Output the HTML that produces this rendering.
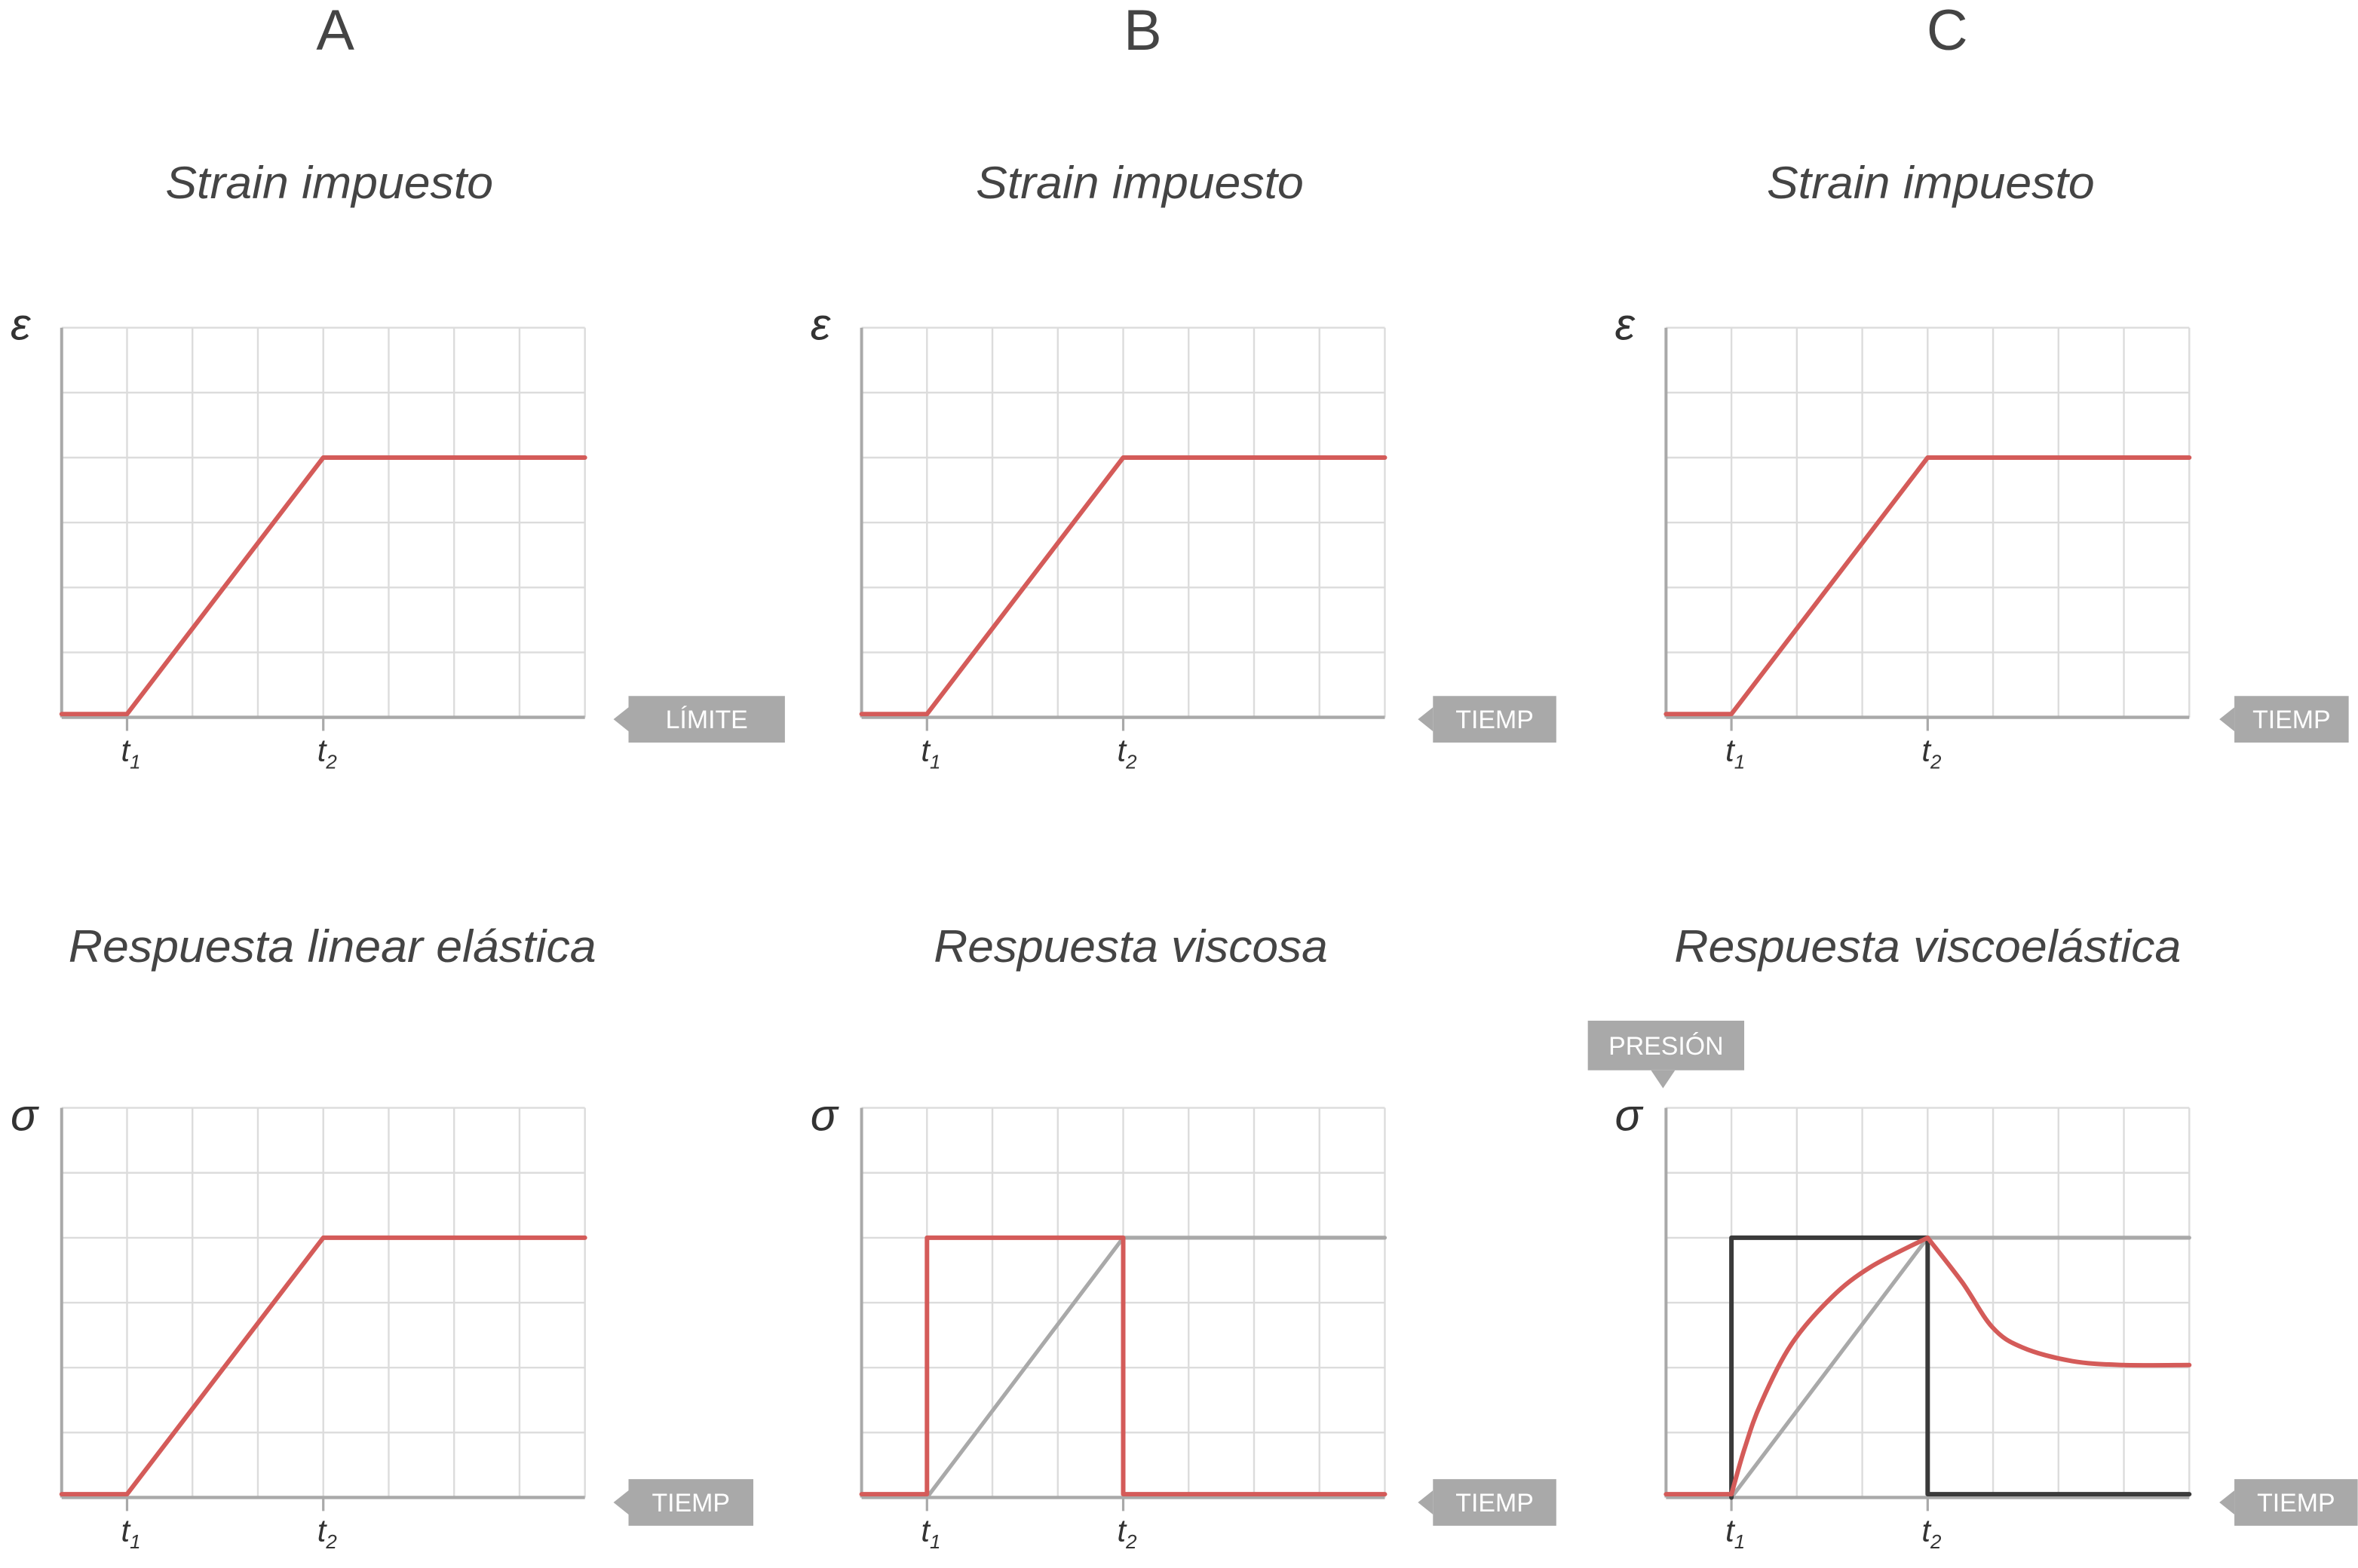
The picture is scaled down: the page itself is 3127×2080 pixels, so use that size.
<!DOCTYPE html>
<html><head><meta charset="utf-8">
<style>
html,body{margin:0;padding:0;background:#fff;}
svg{display:block;}
text{font-family:"Liberation Sans",sans-serif;}
</style></head>
<body>
<svg id="fig" xmlns="http://www.w3.org/2000/svg" width="3127" height="2080" viewBox="0 0 1568.2 1043.1"></svg>
<script>
// ---- data (grid units: x in columns 0..8, y in rows 0..6) ----
const columnLetters = ["A", "B", "C"];
const topTitles = ["Strain impuesto", "Strain impuesto", "Strain impuesto"];
const bottomTitles = ["Respuesta linear elástica", "Respuesta viscosa", "Respuesta viscoelástica"];
const topAxisTags = ["LÍMITE", "TIEMP", "TIEMP"];
const bottomAxisTags = ["TIEMP", "TIEMP", "TIEMP"];
const tickTimes = [1, 4];
const strainX = [0, 1, 4, 8];
const strainY = [0.05, 0.05, 4, 4];
const elasticX = [0, 1, 4, 8];
const elasticY = [0.05, 0.05, 4, 4];
const viscousX = [0, 1, 1, 4, 4, 8];
const viscousY = [0.05, 0.05, 4, 4, 0.05, 0.05];
const refX = [1, 4, 8];
const refY = [0, 4, 4];
const darkX = [1, 1, 4, 4, 8];
const darkY = [0, 4, 4, 0.05, 0.05];
const veBaseX = [0, 1];
const veBaseY = [0.05, 0.05];
const veRiseX = [1, 1.2, 1.45, 1.91, 2.53, 3.13, 4.0];
const veRiseY = [0.05, 0.75, 1.45, 2.35, 3.08, 3.55, 4.0];
const veDecayX = [4.0, 4.53, 4.99, 5.45, 6.21, 6.99, 8];
const veDecayY = [4.0, 3.31, 2.62, 2.31, 2.1, 2.04, 2.04];

const NS = "http://www.w3.org/2000/svg";
const svg = document.getElementById("fig");
const panelLeft = [41, 573, 1108];
const rowTop = [218, 737];
const CW = 43.5, RH = 43.2;
const RED = "#d45b59", GRAY = "#a9a9a9", DARK = "#3a3a3a", GRID = "#dcdcdc";

function el(tag, attrs, parent) {
  const e = document.createElementNS(NS, tag);
  for (const k in attrs) e.setAttribute(k, attrs[k]);
  (parent || svg).appendChild(e);
  return e;
}
function sx(p, v) { return panelLeft[p] + v * CW; }
function sy(r, v) { return rowTop[r] + 6 * RH - v * RH; }
function series(p, r, xs, ys, color, w, name) {
  let d = "";
  for (let i = 0; i < xs.length; i++) d += (i ? "L" : "M") + sx(p, xs[i]).toFixed(1) + " " + sy(r, ys[i]).toFixed(1);
  const e = el("path", {d: d, fill: "none", stroke: color, "stroke-width": w, "stroke-linejoin": "round", "stroke-linecap": "round"});
  
  
  return e;
}
function smoothD(p, r, xs, ys) {
  const P = xs.map((x, i) => [sx(p, x), sy(r, ys[i])]);
  let d = "M" + P[0][0].toFixed(1) + " " + P[0][1].toFixed(1);
  for (let i = 0; i < P.length - 1; i++) {
    const p0 = P[Math.max(0, i - 1)], p1 = P[i], p2 = P[i + 1], p3 = P[Math.min(P.length - 1, i + 2)];
    const c1 = [p1[0] + (p2[0] - p0[0]) / 6, p1[1] + (p2[1] - p0[1]) / 6];
    const c2 = [p2[0] - (p3[0] - p1[0]) / 6, p2[1] - (p3[1] - p1[1]) / 6];
    d += `C${c1[0].toFixed(1)} ${c1[1].toFixed(1)} ${c2[0].toFixed(1)} ${c2[1].toFixed(1)} ${p2[0].toFixed(1)} ${p2[1].toFixed(1)}`;
  }
  return d;
}
function tag(x, y, w, h, label, dir, name) {
  const g = el("g", {});
  
  
  el("rect", {x: x, y: y, width: w, height: h, fill: GRAY}, g);
  if (dir === "left") el("polygon", {points: `${x},${y + h / 2 - 8} ${x - 10},${y + h / 2} ${x},${y + h / 2 + 8}`, fill: GRAY}, g);
  else el("polygon", {points: `${x + 42},${y + h} ${x + 50},${y + h + 12} ${x + 58},${y + h}`, fill: GRAY}, g);
  const t = el("text", {x: x + w / 2, y: y + h / 2 + 6, "text-anchor": "middle", "font-size": 17, fill: "#fff"}, g);
  t.textContent = label;
}
function panel(p, r, symbol) {
  const g = el("g", {});
  
  
  for (let i = 1; i <= 8; i++) el("line", {x1: sx(p, i), x2: sx(p, i), y1: sy(r, 6), y2: sy(r, 0), stroke: GRID, "stroke-width": 1.2}, g);
  for (let j = 1; j <= 6; j++) el("line", {x1: sx(p, 0), x2: sx(p, 8), y1: sy(r, j), y2: sy(r, j), stroke: GRID, "stroke-width": 1.2}, g);
  const ya = el("line", {x1: sx(p, 0), x2: sx(p, 0), y1: sy(r, 6), y2: sy(r, 0), stroke: GRAY, "stroke-width": 2}, g);
  
  
  const xa = el("line", {x1: sx(p, 0), x2: sx(p, 8), y1: sy(r, 0), y2: sy(r, 0), stroke: GRAY, "stroke-width": 2.2}, g);
  
  
  tickTimes.forEach((t, k) => {
    el("line", {x1: sx(p, t), x2: sx(p, t), y1: sy(r, 0), y2: sy(r, 0) + 9, stroke: GRAY, "stroke-width": 1.6}, g);
    const lbl = el("text", {x: sx(p, t) - 4, y: sy(r, 0) + 29, "font-size": 21, "font-style": "italic", fill: "#333"}, g);
    
    
    lbl.textContent = "t";
    const sub = el("tspan", {"font-size": 13, dy: 5}, lbl);
    sub.textContent = String(k + 1);
  });
  const s = el("text", {x: sx(p, 0) - 34, y: sy(r, 6) + (r ? 15 : 8), "font-size": 30, "font-style": "italic", fill: "#333", "font-family": "Liberation Serif, serif"}, g);
  
  
  s.textContent = symbol;
}

const letterX = [223, 760, 1295];
const topTitleW = [218, 218, 218];
const bottomTitleW = [351, 262, 337];
const topTitleC = [219, 758, 1284];
const bottomTitleC = [221, 752, 1282];
for (let p = 0; p < 3; p++) {
  const L = el("text", {x: letterX[p], y: 33, "text-anchor": "middle", "font-size": 38, fill: "#444"});
  
  
  L.textContent = columnLetters[p];
  const T = el("text", {x: topTitleC[p] - topTitleW[p] / 2, y: 132, "font-size": 30, "font-style": "italic", fill: "#444", textLength: topTitleW[p], lengthAdjust: "spacingAndGlyphs"});
  
  
  T.textContent = topTitles[p];
  const B = el("text", {x: bottomTitleC[p] - bottomTitleW[p] / 2, y: 640, "font-size": 30, "font-style": "italic", fill: "#444", textLength: bottomTitleW[p], lengthAdjust: "spacingAndGlyphs"});
  
  
  B.textContent = bottomTitles[p];
  panel(p, 0, "ε");
  panel(p, 1, "σ");
  series(p, 0, strainX, strainY, RED, 3, 'strain-line');
}
tag(418, 463, 104, 31, topAxisTags[0], "left", 'x-axis-tag');
tag(953, 463, 82, 31, topAxisTags[1], "left", 'x-axis-tag');
tag(1486, 463, 76, 31, topAxisTags[2], "left", 'x-axis-tag');
tag(418, 984, 83, 31, bottomAxisTags[0], "left", 'x-axis-tag');
tag(953, 984, 82, 31, bottomAxisTags[1], "left", 'x-axis-tag');
tag(1486, 984, 82, 31, bottomAxisTags[2], "left", 'x-axis-tag');
tag(1056, 679, 104, 33, "PRESIÓN", "down", 'y-axis-tag');

series(0, 1, elasticX, elasticY, RED, 3, 'elastic-response-line');
series(1, 1, refX, refY, GRAY, 2.6, 'reference-strain-line');
series(1, 1, viscousX, viscousY, RED, 3, 'viscous-response-line');
series(2, 1, refX, refY, GRAY, 2.6, 'reference-strain-line');
series(2, 1, darkX, darkY, DARK, 3, 'viscous-component-line');
series(2, 1, veBaseX, veBaseY, RED, 3, 'viscoelastic-baseline');
const ve = el("path", {d: smoothD(2, 1, veRiseX, veRiseY) + smoothD(2, 1, veDecayX, veDecayY).replace(/^M[^C]*/, ""), fill: "none", stroke: RED, "stroke-width": 3, "stroke-linejoin": "round", "stroke-linecap": "round"});


</script>
</body></html>
